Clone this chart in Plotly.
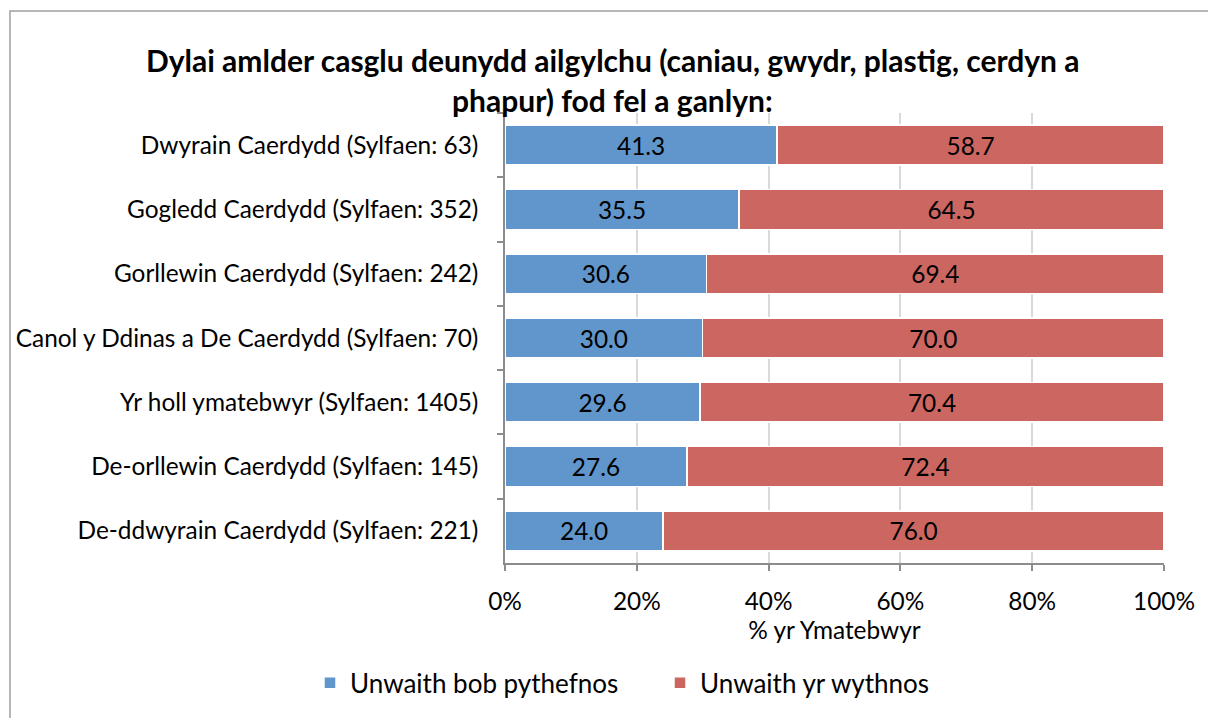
import plotly.graph_objects as go

# Survey results by area
categories = [
    "Dwyrain Caerdydd (Sylfaen: 63)",
    "Gogledd Caerdydd (Sylfaen: 352)",
    "Gorllewin Caerdydd (Sylfaen: 242)",
    "Canol y Ddinas a De Caerdydd (Sylfaen: 70)",
    "Yr holl ymatebwyr (Sylfaen: 1405)",
    "De-orllewin Caerdydd (Sylfaen: 145)",
    "De-ddwyrain Caerdydd (Sylfaen: 221)",
]
fortnightly = [41.3, 35.5, 30.6, 30.0, 29.6, 27.6, 24.0]
weekly = [58.7, 64.5, 69.4, 70.0, 70.4, 72.4, 76.0]
series_names = ["Unwaith bob pythefnos", "Unwaith yr wythnos"]
x_ticks = [0, 20, 40, 60, 80, 100]

FONT = "Lato"
FS = 24.4
BLUE = "#6096CB"
RED = "#CC6660"

fig = go.Figure()
for name, vals, col in [(series_names[0], fortnightly, BLUE), (series_names[1], weekly, RED)]:
    fig.add_trace(go.Bar(
        y=categories, x=vals, name=name, orientation="h",
        marker=dict(color=col, line=dict(color="white", width=1.5)),
        text=vals, texttemplate="%{x:.1f}", textposition="inside",
        insidetextanchor="middle",
        textfont=dict(family=FONT, size=FS, color="black"),
    ))

W, H = 1208, 718
L, R, T, B = 505, 1164, 113, 567


def px(x):
    return (x - L) / (R - L)


def py(y):
    return (B - y) / (B - T)


fig.update_layout(
    width=W, height=H,
    barmode="stack", bargap=0.38,
    margin=dict(l=L, r=W - R, t=T, b=H - B),
    paper_bgcolor="white", plot_bgcolor="white",
    font=dict(family=FONT, size=FS, color="black"),
    showlegend=True,
    legend=dict(orientation="h", x=px(310), xanchor="left", y=py(688), yanchor="middle",
                font=dict(family=FONT, size=26), itemwidth=30, traceorder="normal",
                entrywidth=305),
    xaxis=dict(range=[0, 100], tickvals=x_ticks, ticktext=[f"{v}%" for v in x_ticks],
               showgrid=True, gridcolor="#D9D9D9", gridwidth=1.5,
               showline=True, linecolor="#8C8C8C", linewidth=1.5,
               ticks="outside", ticklen=6, tickcolor="#8C8C8C", tickwidth=1.5,
               tickfont=dict(family=FONT, size=FS), ticklabelstandoff=10,
               title=dict(text="% yr Ymatebwyr", font=dict(family=FONT, size=FS), standoff=6),
               zeroline=False, fixedrange=True),
    yaxis=dict(autorange="reversed", showline=True, linecolor="#8C8C8C", linewidth=1.5,
               ticks="outside", ticklen=6, tickcolor="#8C8C8C", tickwidth=1.5,
               tickson="boundaries", showgrid=False,
               tickfont=dict(family=FONT, size=FS), ticklabelstandoff=20),
    annotations=[
        dict(text="<b>Dylai amlder casglu deunydd ailgylchu (caniau, gwydr, plastig, cerdyn a</b>",
             x=px(612), y=py(60), xref="paper", yref="paper", showarrow=False,
             xanchor="center", yanchor="middle", font=dict(family=FONT, size=30)),
        dict(text="<b>phapur) fod fel a ganlyn:</b>",
             x=px(612), y=py(100), xref="paper", yref="paper", showarrow=False,
             xanchor="center", yanchor="middle", font=dict(family=FONT, size=30)),
    ],
    shapes=[dict(type="rect", xref="paper", yref="paper",
                 x0=px(10), y0=py(H + 20), x1=px(W + 20), y1=py(10),
                 line=dict(color="#A0A0A0", width=1.5), fillcolor="rgba(0,0,0,0)", layer="below")],
)

fig.write_html("out.html")
